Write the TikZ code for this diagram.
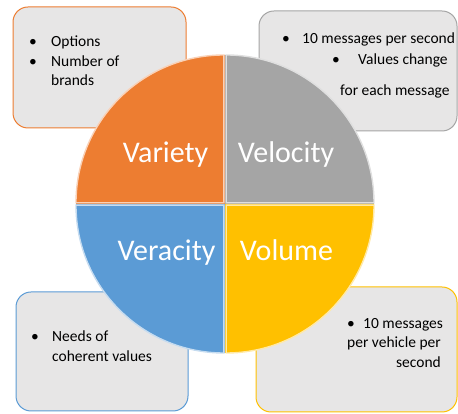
\documentclass[tikz,border=0pt]{standalone}
\usepackage{fontspec}
\setmainfont{Carlito}
\definecolor{cOrange}{HTML}{ED7D31}
\definecolor{cGray}{HTML}{A5A5A5}
\definecolor{cBlue}{HTML}{5B9BD5}
\definecolor{cGold}{HTML}{FFC000}
\definecolor{cBox}{HTML}{E7E6E6}
\begin{document}
\begin{tikzpicture}[x=1pt,y=1pt,
  infobox/.style={fill=cBox,rounded corners=15pt,line width=1pt},
  small/.style={inner sep=0pt,font=\fontsize{15.5}{20}\selectfont,text=black},
  big/.style={inner sep=0pt,font=\fontsize{30}{36}\selectfont,text=white,anchor=base},
  sector/.style={line width=1.4pt}]
\useasboundingbox (0,0) rectangle (458,414);
% boxes
\draw[infobox,draw=cOrange] (13,286) rectangle (186,407);
\draw[infobox,draw=cGray] (259,283) rectangle (457,403);
\draw[infobox,draw=cBlue] (16,3) rectangle (188,122);
\draw[infobox,draw=cGold] (256,2) rectangle (457,127);
% circle quadrants
\coordinate (c) at (225,210);
\fill[cOrange] (c) -- ++(180:149) arc (180:90:149) -- cycle;
\fill[cGray] (c) -- ++(90:149) arc (90:0:149) -- cycle;
\fill[cBlue] (c) -- ++(180:149) arc (180:270:149) -- cycle;
\fill[cGold] (c) -- ++(270:149) arc (270:360:149) -- cycle;
\draw[sector,draw=cOrange!35!white] ([shift={(-1.2,1.2)}]c) -- ++(180:147.8) arc (180:90:147.8) -- cycle;
\draw[sector,draw=cGray!35!white] ([shift={(1.2,1.2)}]c) -- ++(90:147.8) arc (90:0:147.8) -- cycle;
\draw[sector,draw=cBlue!35!white] ([shift={(-1.2,-1.2)}]c) -- ++(180:147.8) arc (180:270:147.8) -- cycle;
\draw[sector,draw=cGold!35!white] ([shift={(1.2,-1.2)}]c) -- ++(270:147.8) arc (270:360:147.8) -- cycle;
% labels
\node[big] (variety) at (165.5,251) {Variety};
\node[big] (velocity) at (286,251) {Velocity};
\node[big] (veracity) at (166.5,153) {Veracity};
\node[big] (volume) at (286.5,153) {Volume};
% top-left text
\node[small,anchor=base] (b1) at (33,367) {\textbullet};
\node[small,anchor=base west] (t1) at (51,367) {Options};
\node[small,anchor=base] (b2) at (33,347) {\textbullet};
\node[small,anchor=base west] (t2) at (51,347) {Number of};
\node[small,anchor=base west] (t3) at (51,328) {brands};
% top-right text
\node[small,anchor=base] (b3) at (286,370) {\textbullet};
\node[small,anchor=base west] (t4) at (302,370) {10 messages per second};
\node[small,anchor=base] (b4) at (336,349) {\textbullet};
\node[small,anchor=base west] (t5) at (358,349) {Values change};
\node[small,anchor=base west] (t6) at (340,318) {for each message};
% bottom-left text
\node[small,anchor=base] (b5) at (35,72) {\textbullet};
\node[small,anchor=base west] (t7) at (52,72) {Needs of};
\node[small,anchor=base west] (t8) at (52,52) {coherent values};
% bottom-right text
\node[small,anchor=base] (b6) at (351,85) {\textbullet};
\node[small,anchor=base west] (t9) at (363,85) {10 messages};
\node[small,anchor=base east] (t10) at (441,66) {per vehicle per};
\node[small,anchor=base east] (t11) at (441,46) {second};
\end{tikzpicture}
\end{document}
